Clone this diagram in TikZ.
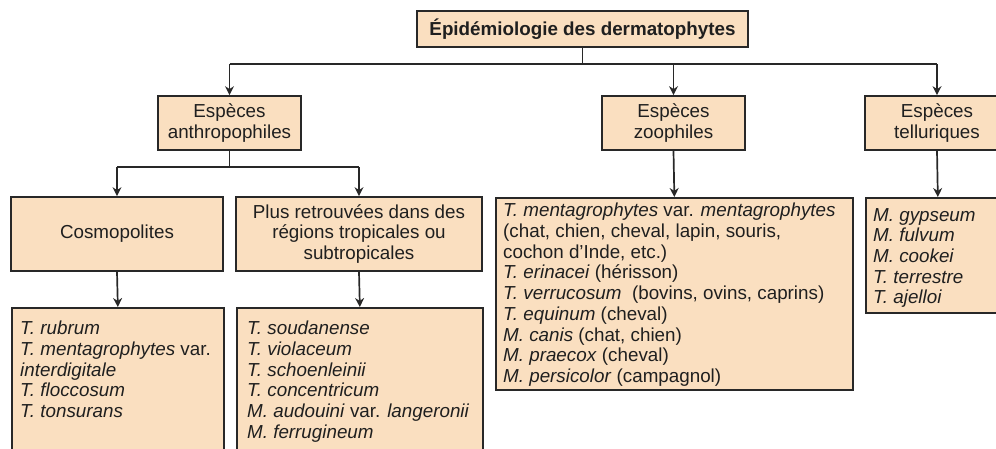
\documentclass[tikz,border=0pt]{standalone}
\usepackage{fontspec}
\setmainfont{Liberation Sans}
\usetikzlibrary{arrows.meta}
\definecolor{peach}{RGB}{250,223,192}
\definecolor{edge}{RGB}{40,40,40}

\begin{document}
\begin{tikzpicture}[x=1pt, y=-1pt,
	box/.style={draw=edge, line width=1.7pt, fill=peach, inner sep=0pt},
	txt/.style={font=\fontsize{18.8}{20.7}\selectfont, align=center, text=black!88},
	list/.style={font=\fontsize{18.8}{20.7}\selectfont, align=left, inner sep=0pt, anchor=north west, text=black!88},
	wire/.style={draw=edge, line width=1.7pt},
	arr/.style={wire, -{Stealth[length=9pt,width=9pt]}}]
	\useasboundingbox (0,0) rectangle (996,448);
	% title and the three groups
	\node[box, txt, minimum width=331pt, minimum height=36pt] (title) at (582.5,29) {\textbf{Épidémiologie des dermatophytes}};
	\node[box, txt, minimum width=143pt, minimum height=54pt] (anthro) at (229.5,123) {Espèces\\anthropophiles};
	\node[box, txt, minimum width=143pt, minimum height=54pt] (zoo) at (673.5,123) {Espèces\\zoophiles};
	\node[box, txt, minimum width=144pt, minimum height=54pt] (tellur) at (937,123) {Espèces\\telluriques};
	% anthropophiles split
	\node[box, txt, minimum width=212pt, minimum height=74pt] (cosmo) at (117,234) {Cosmopolites};
	\node[box, txt, minimum width=246pt, minimum height=74pt] (tropic) at (359,234) {Plus retrouvées dans des\\régions tropicales ou\\subtropicales};
	% species lists
	\node[box, minimum width=212pt, minimum height=170pt, anchor=north west] (cosmolist) at (11,307) {};
	\node[list] (cosmotxt) at ([shift={(9,14)}]cosmolist.north west) {\textit{T. rubrum}\\\textit{T. mentagrophytes} var.\\\textit{interdigitale}\\\textit{T. floccosum}\\\textit{T. tonsurans}};
	\node[box, minimum width=246pt, minimum height=170pt, anchor=north west] (tropiclist) at (236,307) {};
	\node[list] (tropictxt) at ([shift={(11,14)}]tropiclist.north west) {\textit{T. soudanense}\\\textit{T. violaceum}\\\textit{T. schoenleinii}\\\textit{T. concentricum}\\\textit{M. audouini} var. \textit{langeronii}\\\textit{M. ferrugineum}};
	\node[box, minimum width=357pt, minimum height=192pt, anchor=north west] (zoolist) at (495,197) {};
	\node[list] (zootxt) at ([shift={(8,6)}]zoolist.north west) {\textit{T. mentagrophytes} var. \textit{mentagrophytes}\\(chat, chien, cheval, lapin, souris,\\cochon d'Inde, etc.)\\\textit{T. erinacei} (hérisson)\\\textit{T. verrucosum}\ \ (bovins, ovins, caprins)\\\textit{T. equinum} (cheval)\\\textit{M. canis} (chat, chien)\\\textit{M. praecox} (cheval)\\\textit{M. persicolor} (campagnol)};
	\node[box, minimum width=144pt, minimum height=115pt, anchor=north west] (tellist) at (865,197) {};
	\node[list] (teltxt) at ([shift={(8,11)}]tellist.north west) {\textit{M. gypseum}\\\textit{M. fulvum}\\\textit{M. cookei}\\\textit{T. terrestre}\\\textit{T. ajelloi}};
	% connectors
	\coordinate (bus) at (579,64);
	\coordinate (subbus) at (0,167);
	\draw[wire] (title.south) -- (title.south |- bus);
	\draw[wire] (anthro |- bus) -- (tellur |- bus);
	\foreach \n in {anthro, zoo, tellur}
		\draw[arr] (\n |- bus) -- (\n.north);
	\draw[wire] (anthro.south) -- (anthro.south |- subbus);
	\draw[wire] (cosmo |- subbus) -- (tropic |- subbus);
	\foreach \n in {cosmo, tropic}
		\draw[arr] (\n |- subbus) -- (\n.north);
	\draw[arr] (cosmo.south) -- (cosmolist.north);
	\draw[arr] (tropic.south) -- (tropiclist.north);
	\draw[arr] (zoo.south) -- (zoolist.north);
	\draw[arr] (tellur.south) -- (tellist.north);
\end{tikzpicture}
\end{document}
